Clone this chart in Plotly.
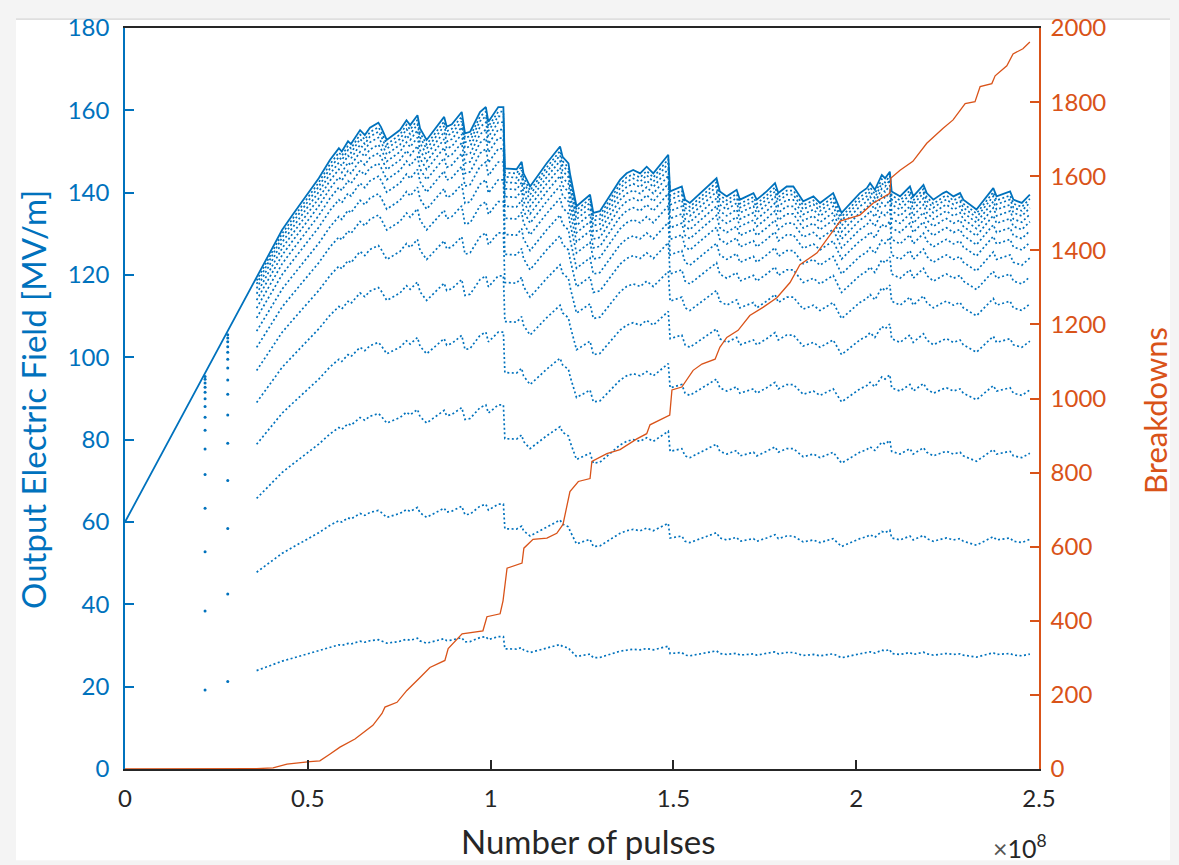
import plotly.graph_objects as go

# ---- Data (x in units of 1e8 pulses) ----
peak_pulses = [0.000, 0.219, 0.281, 0.360, 0.430, 0.460, 0.500, 0.530, 0.561, 0.585,
               0.593, 0.610, 0.618, 0.643, 0.656, 0.670, 0.693, 0.700, 0.716, 0.739,
               0.752, 0.770, 0.780, 0.800, 0.807, 0.825, 0.853, 0.873, 0.880, 0.894,
               0.921, 0.930, 0.944, 0.971, 0.987, 0.994, 1.021, 1.035, 1.039, 1.071,
               1.085, 1.090, 1.108, 1.153, 1.190, 1.197, 1.213, 1.217, 1.235, 1.245,
               1.272, 1.281, 1.299, 1.354, 1.372, 1.390, 1.409, 1.427, 1.445, 1.486,
               1.491, 1.523, 1.532, 1.545, 1.618, 1.627, 1.646, 1.673, 1.682, 1.719,
               1.728, 1.755, 1.778, 1.787, 1.810, 1.828, 1.837, 1.855, 1.883, 1.901,
               1.937, 1.960, 2.010, 2.029, 2.038, 2.051, 2.070, 2.079, 2.092, 2.097,
               2.120, 2.147, 2.156, 2.184, 2.193, 2.211, 2.238, 2.247, 2.266, 2.284,
               2.293, 2.329, 2.375, 2.384, 2.421, 2.430, 2.453, 2.475]
peak_field = [60.0, 96.0, 106.2, 119.5, 131.0, 134.8, 139.8, 143.5, 148.0, 150.8,
              150.0, 152.5, 151.8, 155.2, 154.0, 155.8, 157.0, 156.0, 152.8, 154.2,
              155.2, 157.6, 156.4, 158.8, 155.6, 152.8, 156.0, 158.4, 156.0, 156.6,
              159.6, 154.4, 154.8, 159.6, 160.8, 157.2, 160.8, 160.8, 145.9, 145.7,
              147.5, 144.7, 141.5, 147.1, 151.2, 148.7, 147.1, 144.7, 136.7, 137.5,
              139.5, 135.1, 135.5, 143.1, 144.7, 145.5, 144.7, 146.3, 144.7, 149.2,
              140.3, 141.5, 138.3, 137.5, 143.5, 140.3, 139.1, 140.7, 138.3, 139.9,
              138.3, 140.3, 142.3, 139.9, 141.5, 141.5, 140.3, 137.9, 139.1, 137.5,
              139.9, 135.1, 139.9, 141.1, 142.3, 140.7, 144.3, 143.5, 145.1, 140.3,
              139.1, 141.5, 139.1, 141.9, 139.9, 138.3, 139.9, 140.3, 139.1, 139.9,
              138.3, 135.9, 141.1, 139.1, 140.3, 138.3, 137.5, 139.5]

# pulse-shape sample levels, as fraction of peak field
level_ratio = [0.2, 0.4, 0.55, 0.66, 0.745, 0.81, 0.857, 0.89, 0.917,
               0.937, 0.953, 0.966, 0.977, 0.986, 0.993]
# isolated early sample columns
column_pulses = [0.219, 0.281]
# pulse-shape traces recorded continuously from here on
levels_start = 0.360

bd_pulses = [0.000, 0.280, 0.360, 0.405, 0.443, 0.506, 0.533, 0.560, 0.588, 0.629,
             0.651, 0.678, 0.703, 0.711, 0.744, 0.771, 0.807, 0.834, 0.875, 0.884,
             0.922, 0.979, 0.990, 1.026, 1.034, 1.045, 1.086, 1.091, 1.116, 1.154,
             1.181, 1.198, 1.217, 1.240, 1.272, 1.277, 1.318, 1.354, 1.400, 1.427,
             1.436, 1.482, 1.490, 1.496, 1.523, 1.554, 1.578, 1.614, 1.627, 1.646,
             1.677, 1.709, 1.745, 1.783, 1.819, 1.846, 1.893, 1.956, 2.010, 2.046,
             2.092, 2.095, 2.120, 2.155, 2.193, 2.237, 2.265, 2.298, 2.325, 2.339,
             2.371, 2.380, 2.412, 2.429, 2.456, 2.475]
breakdowns = [0, 0, 1, 3, 13, 20, 22, 40, 59, 81,
              97, 118, 150, 167, 180, 212, 247, 274, 293, 325,
              365, 373, 411, 419, 454, 542, 556, 596, 620, 623,
              636, 660, 749, 776, 784, 830, 851, 862, 891, 905,
              929, 950, 955, 1023, 1031, 1076, 1093, 1106, 1138, 1165,
              1184, 1224, 1246, 1272, 1313, 1361, 1393, 1479, 1495, 1527,
              1554, 1595, 1616, 1640, 1689, 1729, 1752, 1796, 1801, 1842,
              1850, 1871, 1898, 1930, 1944, 1962]

BLUE = "#0072BD"
ORANGE = "#D95319"
DARK = "#262626"
FONT = "Lato"

fig = go.Figure()

# pulse-shape levels (dotted)
i0 = next(i for i, v in enumerate(peak_pulses) if v >= levels_start)
lx = peak_pulses[i0:]
for r in level_ratio:
    fig.add_trace(go.Scatter(
        x=lx, y=[v * r for v in peak_field[i0:]], mode="lines",
        line=dict(color=BLUE, width=1.7, dash="2px,2.5px"),
        hoverinfo="skip", showlegend=False))

# early isolated columns
cx, cy = [], []
for c in column_pulses:
    k = peak_pulses.index(c)
    for r in level_ratio:
        cx.append(c)
        cy.append(peak_field[k] * r)
fig.add_trace(go.Scatter(x=cx, y=cy, mode="markers",
                         marker=dict(color=BLUE, size=3, line=dict(width=0)),
                         hoverinfo="skip", showlegend=False))

# peak field line
fig.add_trace(go.Scatter(x=peak_pulses, y=peak_field, mode="lines",
                         line=dict(color=BLUE, width=1.8),
                         showlegend=False))

# breakdowns
fig.add_trace(go.Scatter(x=bd_pulses, y=breakdowns, mode="lines", yaxis="y2",
                         line=dict(color=ORANGE, width=1.3),
                         showlegend=False))

# geometry of plot area in page pixels
L, T = 125, 22
W, H = 914, 747
FW, FH = 1179, 865
def px2x(p): return (p - L) / W
def py2y(p): return (T + H - p) / H

# page-like white frame
fig.add_shape(type="rect", xref="paper", yref="paper",
              x0=px2x(16), x1=px2x(1170), y0=py2y(861), y1=py2y(14),
              fillcolor="white", line=dict(width=0), layer="below")
fig.add_shape(type="line", xref="paper", yref="paper",
              x0=px2x(16), x1=px2x(1170), y0=py2y(13), y1=py2y(13),
              line=dict(color="#cfcfcf", width=1), layer="below")

fig.update_layout(
    width=FW, height=FH,
    margin=dict(l=L, r=FW - L - W, t=T, b=FH - T - H),
    paper_bgcolor="#f4f4f4", plot_bgcolor="white",
    font=dict(family=FONT, size=24, color=DARK),
    hovermode=False,
    xaxis=dict(range=[0, 2.5], tickvals=[0, 0.5, 1, 1.5, 2, 2.5],
               ticktext=["0", "0.5", "1", "1.5", "2", "2.5"],
               ticks="inside", ticklen=9, tickwidth=1.5, tickcolor=DARK,
               showline=True, linecolor=DARK, linewidth=1.5, mirror=True,
               showgrid=False, zeroline=False, ticklabelstandoff=7,
               tickfont=dict(size=24, color=DARK, family=FONT)),
    yaxis=dict(range=[0, 180], dtick=20,
               ticks="inside", ticklen=9, tickwidth=1.5, tickcolor=BLUE,
               showline=True, linecolor=BLUE, linewidth=1.5,
               showgrid=False, zeroline=False, ticklabelstandoff=9,
               tickfont=dict(size=24, color=BLUE, family=FONT)),
    yaxis2=dict(range=[0, 2000], dtick=200, overlaying="y", side="right",
                ticks="inside", ticklen=9, tickwidth=1.5, tickcolor=ORANGE,
                showline=True, linecolor=ORANGE, linewidth=1.5,
                showgrid=False, zeroline=False, ticklabelstandoff=5,
                tickfont=dict(size=24, color=ORANGE, family=FONT)),
)

# axis titles
fig.add_annotation(xref="paper", yref="paper", x=px2x(588), y=py2y(842),
                   text="Number of pulses", showarrow=False,
                   xanchor="center", yanchor="middle",
                   font=dict(size=33, color=DARK, family=FONT))
fig.add_annotation(xref="paper", yref="paper", x=px2x(33), y=py2y(397),
                   text="Output Electric Field [MV/m]", showarrow=False,
                   textangle=-90, xanchor="center", yanchor="middle",
                   font=dict(size=33, color=BLUE, family=FONT))
fig.add_annotation(xref="paper", yref="paper", x=px2x(1155), y=py2y(408),
                   text="Breakdowns", showarrow=False,
                   textangle=-90, xanchor="center", yanchor="middle",
                   font=dict(size=31, color=ORANGE, family=FONT))
fig.add_annotation(xref="paper", yref="paper", x=px2x(1020), y=py2y(847),
                   text="<span style='color:#555'>×</span>10<sup>8</sup>",
                   showarrow=False, xanchor="center", yanchor="middle",
                   font=dict(size=25, color=DARK, family=FONT))

fig.write_html("out.html", config={"displayModeBar": False},
               post_script="document.body.style.margin='0';")
